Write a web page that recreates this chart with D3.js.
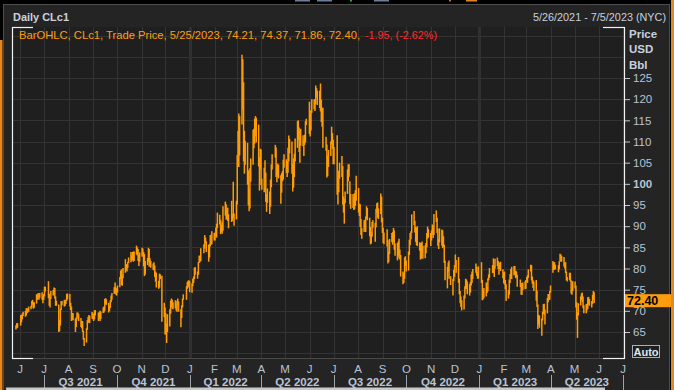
<!DOCTYPE html>
<html><head><meta charset="utf-8">
<script src="https://cdn.jsdelivr.net/npm/d3@7"></script>
<style>
body{margin:0;background:#000;}
svg{display:block;}
text{font-family:"Liberation Sans",Arial,sans-serif;}
</style>
</head><body>
<svg id="c" width="674" height="390"></svg>
<script>
// ---------------- DATA ----------------
const firstDay = "2021-05-26";
const lastDay = "2023-05-25";
const holidays = ["2021-05-31","2021-07-05","2021-09-06","2021-11-25","2021-12-24",
  "2022-01-17","2022-02-21","2022-04-15","2022-05-30","2022-06-20","2022-07-04","2022-09-05",
  "2022-11-24","2022-12-26","2023-01-02","2023-01-16","2023-02-20","2023-04-07"];

// daily lows (one line per month)
const lows = [
  65.6,65.9,66.0,
  66.5,67.3,68.0,68.8,68.6,68.9,69.4,69.6,69.8,70.4,70.8,71.4,70.5,70.7,71.7,72.6,72.8,72.6,73.1,72.6,71.8,72.6,
  73.4,74.6,73.0,71.2,70.8,72.8,73.6,73.8,72.9,71.2,71.2,65.0,65.2,66.5,70.2,71.3,71.0,71.2,71.6,72.4,72.7,
  71.0,70.2,67.6,67.8,67.8,65.0,66.2,68.0,68.6,67.6,66.2,65.9,65.0,63.2,61.7,62.5,65.5,67.3,67.1,67.1,68.2,68.0,
  67.6,68.0,68.9,67.6,68.2,67.6,68.1,69.5,69.6,70.0,71.6,71.4,69.6,70.0,70.7,72.0,72.6,74.0,74.4,73.8,73.6,
  74.3,75.6,77.5,76.1,75.9,77.7,79.0,79.6,79.3,80.1,81.3,81.5,81.8,82.0,81.6,81.8,83.3,83.1,81.8,80.6,81.6,
  82.8,83.1,80.5,78.2,78.6,80.8,81.6,80.4,80.9,80.2,79.7,79.5,78.0,76.9,75.5,75.2,75.5,77.5,67.4,68.5,64.4,
  64.4,62.4,65.0,66.3,69.3,70.9,70.5,70.4,70.6,70.1,69.8,71.4,69.8,66.1,68.3,70.8,72.6,72.6,75.2,75.5,75.8,74.4,
  74.3,75.8,76.6,77.5,78.5,77.6,78.5,81.3,81.5,81.8,83.6,84.7,85.9,83.9,81.6,82.6,85.2,85.6,85.7,86.6,
  86.6,87.5,87.3,89.6,90.4,88.1,88.6,88.2,88.9,92.5,91.6,91.6,91.2,89.5,91.0,91.2,92.0,90.1,91.6,
  95.1,104.0,104.0,106.7,114.0,117.5,105.3,102.4,104.5,99.8,94.9,93.5,94.2,100.5,104.5,108.4,109.5,111.2,109.8,104.1,98.4,103.4,99.7,
  98.6,98.0,101.4,95.7,93.4,95.5,92.9,94.6,99.2,103.4,106.2,101.6,100.4,101.7,101.3,95.3,97.9,100.6,101.0,103.8,
  102.6,101.6,102.6,105.3,107.2,102.4,98.2,99.1,101.6,105.3,108.5,110.4,107.5,105.0,109.0,108.9,106.6,109.2,109.8,113.9,111.8,
  111.2,112.6,116.8,117.6,117.2,118.8,120.4,118.6,117.9,117.1,114.6,113.5,108.5,107.8,101.5,101.8,104.0,106.6,109.3,108.3,104.6,
  104.6,97.4,95.1,98.0,101.2,101.6,95.1,93.2,90.6,95.4,97.6,100.6,101.7,95.2,94.1,94.3,93.8,94.0,94.8,96.0,
  93.2,92.4,89.8,87.9,87.0,88.6,89.6,88.6,91.8,91.4,87.6,85.7,85.9,87.5,89.6,86.3,89.7,93.1,92.0,91.7,92.9,90.9,88.4,
  86.0,85.7,85.2,81.2,81.5,83.4,86.2,85.6,86.2,84.4,83.0,81.9,83.0,82.4,82.1,78.1,76.3,76.6,77.6,80.6,79.3,
  79.5,83.2,85.5,86.9,88.4,90.3,88.5,86.3,85.5,85.3,84.2,82.1,82.3,83.6,82.3,82.4,83.6,85.0,87.1,87.3,85.3,
  86.6,88.0,87.2,87.9,91.0,88.4,85.4,84.6,86.2,85.4,84.8,85.1,81.3,77.2,75.3,79.3,77.6,76.1,73.6,77.0,78.0,
  80.4,79.0,76.6,73.9,71.8,70.9,70.1,70.3,72.9,75.1,75.2,73.9,73.6,74.3,76.0,76.6,77.6,79.0,78.3,77.6,77.6,
  76.6,72.5,72.7,73.1,73.4,74.2,74.6,77.2,77.8,78.9,79.0,78.0,80.0,80.6,79.9,78.5,79.9,79.4,77.7,76.5,
  76.2,75.1,72.3,72.9,73.8,76.6,77.6,77.5,78.4,78.4,77.7,77.9,75.7,75.6,73.8,73.8,74.9,75.1,75.2,
  76.8,76.6,77.8,79.3,77.2,76.4,75.4,74.7,72.4,70.9,65.7,66.8,66.0,64.1,67.7,69.3,69.1,66.8,69.4,72.0,72.6,72.6,74.3,
  79.0,79.7,79.7,79.8,79.1,79.8,81.6,81.7,81.6,80.5,80.0,78.9,77.2,76.9,77.3,76.9,74.1,73.8,74.7,
  75.3,70.8,67.9,63.6,68.9,71.3,72.6,72.1,70.6,69.4,69.4,70.1,70.5,71.5,71.2,70.8,71.6,72.6,71.86
];
// daily highs (one line per month)
const highs = [
  66.6,67.1,67.1,
  69.0,69.0,69.4,69.8,70.0,70.6,70.6,70.5,71.0,71.2,72.3,72.6,72.1,72.0,73.9,73.9,74.2,73.5,74.2,74.4,73.5,74.0,
  75.7,75.7,77.0,74.0,73.1,74.7,74.9,75.5,75.4,73.4,72.4,71.5,67.8,70.5,72.3,72.3,72.6,72.5,72.7,74.0,74.1,
  74.0,71.9,71.0,69.5,69.5,68.2,68.4,69.6,69.6,69.2,68.3,67.6,67.6,65.3,63.6,65.9,67.8,68.6,69.0,68.8,69.7,69.4,
  69.3,70.1,70.2,69.6,69.6,70.0,69.8,70.8,71.0,72.8,73.0,72.7,71.9,71.2,72.5,73.6,74.2,75.6,76.7,75.5,75.3,
  76.0,78.0,79.5,79.8,78.5,80.1,82.2,81.0,81.0,81.6,82.6,83.9,83.2,83.9,84.0,84.0,85.4,85.0,84.6,83.2,83.8,
  84.9,84.7,83.9,83.4,81.8,82.5,84.9,84.6,82.4,81.8,81.2,81.5,80.7,79.3,79.0,77.1,78.8,78.6,78.3,71.9,70.8,
  69.4,67.0,69.2,70.4,72.4,72.9,72.6,72.0,72.5,71.5,72.4,72.9,72.2,70.4,71.3,72.9,73.9,75.8,76.8,77.1,77.2,77.0,
  76.5,77.6,78.1,80.2,80.3,79.3,81.5,83.0,83.1,84.8,85.7,87.9,87.3,86.4,85.6,85.8,87.9,88.0,88.8,88.4,
  88.5,89.7,90.6,93.2,92.7,91.5,90.3,91.0,94.7,95.8,95.2,94.0,94.4,92.8,96.0,92.9,100.5,93.0,96.0,
  106.8,112.5,116.6,116.0,130.5,129.4,124.0,112.5,110.2,109.7,103.2,98.7,103.7,106.0,112.8,113.0,115.4,116.0,115.6,114.0,106.3,108.3,108.1,
  101.2,103.8,105.6,102.7,97.6,98.9,98.2,101.0,104.6,107.0,109.2,108.6,104.2,104.8,104.5,102.0,102.5,103.0,105.7,107.0,
  105.8,105.4,108.5,111.4,110.6,110.0,104.7,106.0,107.1,110.7,114.8,115.0,113.3,112.5,113.0,111.5,110.5,111.6,114.8,115.4,119.4,
  117.4,117.2,120.0,120.0,120.0,123.2,122.6,122.0,122.0,123.7,119.9,118.0,118.0,111.1,109.3,106.7,108.0,110.0,113.5,112.0,110.4,
  108.7,111.5,101.4,103.1,105.0,106.6,104.2,97.0,96.4,98.2,103.4,104.6,104.6,100.6,97.6,97.6,97.0,97.8,98.5,101.9,
  99.0,95.3,95.2,91.7,89.5,91.4,91.5,92.3,94.7,94.3,92.0,89.8,88.6,91.0,91.4,90.8,94.1,95.4,95.6,94.2,97.7,97.0,92.0,
  89.6,88.5,89.3,86.7,84.0,87.0,88.4,88.6,89.6,89.0,85.9,86.0,86.4,87.0,84.5,83.2,79.3,79.0,82.6,82.9,81.9,
  84.0,86.8,88.4,88.8,92.8,93.6,91.3,89.8,89.6,90.0,86.2,86.0,86.0,86.4,85.4,85.5,86.0,88.4,89.9,89.3,88.4,
  89.0,90.4,90.1,92.9,93.7,92.0,89.4,87.0,89.5,89.2,89.0,87.6,85.6,81.9,80.4,81.4,81.9,78.2,77.6,79.7,80.8,
  83.3,82.0,82.7,77.6,74.7,73.4,72.5,73.6,75.8,77.6,77.4,76.9,76.3,76.8,78.6,79.3,79.9,81.2,80.4,79.2,80.5,
  81.5,77.3,74.9,75.4,76.7,75.7,77.7,78.6,80.1,80.8,82.4,80.6,82.3,82.6,81.8,80.6,81.4,81.6,79.8,79.1,
  79.3,77.3,76.3,74.9,77.4,78.7,79.9,80.4,80.6,80.6,79.5,79.3,78.5,77.4,76.6,75.8,76.7,77.0,77.3,
  78.0,78.4,79.8,80.9,80.8,78.1,77.2,76.9,77.3,74.8,71.5,69.0,68.9,68.2,69.8,71.6,71.7,70.3,73.0,74.0,74.0,74.7,76.0,
  81.8,81.4,81.5,80.9,80.8,81.7,83.5,83.3,83.0,82.7,81.4,81.5,79.3,78.0,79.0,79.0,77.2,75.0,77.0,
  76.9,76.0,72.0,69.6,71.8,73.4,74.1,74.3,73.4,71.3,71.6,71.7,73.2,73.3,72.8,72.3,73.8,74.7,74.37
];

const yTickValues = [65,70,75,80,85,90,95,100,105,110,115,120,125];
const yGridValues = [60,65,70,75,80,85,90,95,100,105,110,115,120,125,130,135];
const monthLetters = ["J","J","A","S","O","N","D","J","F","M","A","M","J","J","A","S","O","N","D","J","F","M","A","M","J","J"];
const quarterNames = ["Q3 2021","Q4 2021","Q1 2022","Q2 2022","Q3 2022","Q4 2022","Q1 2023","Q2 2023"];
const titleText = "Daily CLc1";
const rangeText = "5/26/2021 - 7/5/2023 (NYC)";
const legendMain = "BarOHLC, CLc1, Trade Price,  5/25/2023, 74.21, 74.37, 71.86, 72.40,";
const legendChange = "-1.95, (-2.62%)";
const lastPrice = 72.40;
const axisUnits = ["Price","USD","Bbl"];

// ---------------- DRAW ----------------
const W = 674, H = 390;
const plot = {l:12, r:624, t:27, b:358};
const svg = d3.select("#c");
const parse = d3.timeParse("%Y-%m-%d");
const fmt = d3.timeFormat("%Y-%m-%d");

const x = d3.scaleTime().domain([new Date(2021,6,1), new Date(2023,6,1)]).range([44, 623]);
const y = d3.scaleLinear().domain([65,125]).range([332,78]);

const days = d3.timeDay.range(parse(firstDay), d3.timeDay.offset(parse(lastDay),1))
  .filter(d => d.getDay()!==0 && d.getDay()!==6 && !holidays.includes(fmt(d)));
const n = Math.min(days.length, lows.length, highs.length);
const bars = d3.range(n).map(i => ({d:days[i], lo:lows[i], hi:highs[i]}));

// background
svg.append("rect").attr("width",W).attr("height",H).attr("fill","#000");
// toolbar remnants
[[295,15,"#6c7f97"],[317,15,"#6c7f97"],[350,2,"#2fa84a"],[374,15,"#6c7f97"],[449,2,"#c07020"],[466,11,"#e0861c"]]
  .forEach(([px,w,c]) => svg.append("rect").attr("x",px).attr("y",0).attr("width",w).attr("height",1.5).attr("fill",c));
svg.append("rect").attr("x",3.5).attr("y",4.5).attr("width",666).attr("height",390)
  .attr("fill","#242424").attr("stroke","#4d4d4d");
// orange window edges
svg.append("rect").attr("x",0).attr("y",40).attr("width",2.5).attr("height",H-40).attr("fill","#e8871e");
svg.append("rect").attr("x",671).attr("y",0).attr("width",3).attr("height",H).attr("fill","#e8871e");

// plot background
svg.append("rect").attr("x",plot.l).attr("y",plot.t).attr("width",plot.r-plot.l).attr("height",plot.b-plot.t)
  .attr("fill","#1f1f1f");

const clip = svg.append("clipPath").attr("id","pc").append("rect")
  .attr("x",plot.l).attr("y",plot.t).attr("width",plot.r-plot.l).attr("height",plot.b-plot.t);
const g = svg.append("g").attr("clip-path","url(#pc)");

// grid
g.selectAll(".hg").data(yGridValues).enter().append("line")
  .attr("x1",plot.l).attr("x2",plot.r)
  .attr("y1",d=>Math.round(y(d))+0.5).attr("y2",d=>Math.round(y(d))+0.5)
  .attr("stroke","#343434").attr("stroke-width",1);
const months = d3.timeMonth.range(new Date(2021,5,1), new Date(2023,7,1));
g.selectAll(".vg").data(months).enter().append("line")
  .attr("x1",d=>Math.round(x(d))+0.5).attr("x2",d=>Math.round(x(d))+0.5)
  .attr("y1",plot.t).attr("y2",plot.b)
  .attr("stroke",d=>d.getMonth()===0?"#303030":"#343434")
  .attr("stroke-width",d=>d.getMonth()===0?3:1);

// bars
g.selectAll(".bar").data(bars).enter().append("line")
  .attr("x1",d=>x(d.d)+0.5).attr("x2",d=>x(d.d)+0.5)
  .attr("y1",d=>y(d.hi)).attr("y2",d=>Math.max(y(d.lo), y(d.hi)+1))
  .attr("stroke","#ff9c05").attr("stroke-width",1.5);

// frame
svg.append("line").attr("x1",plot.l).attr("x2",plot.r).attr("y1",plot.b+0.5).attr("y2",plot.b+0.5).attr("stroke","#4a4a4a");
const white = "#f2f2f2";
[[plot.l+0.5,plot.t,plot.l+0.5,plot.b+1],[plot.r+0.5,plot.t,plot.r+0.5,plot.b+1],
 [plot.l,plot.t+0.5,plot.l+21,plot.t+0.5],[plot.r-21,plot.t+0.5,plot.r+1,plot.t+0.5],
 [plot.l,plot.b+0.5,plot.l+21,plot.b+0.5],[plot.r-21,plot.b+0.5,plot.r+1,plot.b+0.5]]
 .forEach(([a,b,c,d]) => svg.append("line").attr("x1",a).attr("y1",b).attr("x2",c).attr("y2",d)
   .attr("stroke",white).attr("stroke-width",1.2));

// title + range
svg.append("text").attr("x",13).attr("y",21).attr("fill","#c9d1de").attr("font-size",11.5)
  .attr("font-weight","bold").attr("textLength",56).attr("lengthAdjust","spacingAndGlyphs").text(titleText);
svg.append("text").attr("x",533).attr("y",21).attr("fill","#c9d1de").attr("font-size",11.5)
  .attr("textLength",133).attr("lengthAdjust","spacingAndGlyphs").text(rangeText);

// legend
svg.append("text").attr("x",19).attr("y",38.5).attr("fill","#ff9d0e").attr("font-size",11.5)
  .attr("textLength",341).attr("lengthAdjust","spacingAndGlyphs").text(legendMain);
svg.append("text").attr("x",365).attr("y",38.5).attr("fill","#ff2a2a").attr("font-size",11.5)
  .attr("textLength",72).attr("lengthAdjust","spacingAndGlyphs").text(legendChange);

// right axis
const yAxis = d3.axisRight(y).tickValues(yTickValues).tickSize(5).tickPadding(3).tickFormat(d3.format("d"));
const ya = svg.append("g").attr("transform",`translate(${plot.r+1},0)`).call(yAxis);
ya.select(".domain").remove();
ya.selectAll(".tick line").attr("stroke","#c0c8d4");
ya.selectAll(".tick text").attr("fill","#b9c3d3").attr("font-size",11.5)
  .attr("font-family","'Liberation Sans',Arial,sans-serif")
  .attr("font-weight",d=>d===100?"bold":"normal");

axisUnits.forEach((t,i) => svg.append("text").attr("x",629).attr("y",37.5+i*15.5)
  .attr("fill","#c9d1de").attr("font-size",11.5).attr("font-weight","bold").text(t));

// last price tag
svg.append("rect").attr("x",625).attr("y",y(lastPrice)-6.5).attr("width",46).attr("height",13).attr("fill","#ff9d0e");
svg.append("text").attr("x",627).attr("y",y(lastPrice)+4.5).attr("fill","#000").attr("font-size",12.5)
  .attr("font-weight","bold").text(d3.format(".2f")(lastPrice));

// Auto box
svg.append("rect").attr("x",632.5).attr("y",345.5).attr("width",27).attr("height",12)
  .attr("fill","#1f1f1f").attr("stroke","#a9aeb5");
svg.append("text").attr("x",646).attr("y",355.5).attr("text-anchor","middle").attr("fill","#dfe4ec")
  .attr("font-size",11).attr("font-weight","bold").text("Auto");

// x axis months
svg.selectAll(".ml").data(months).enter().append("text")
  .attr("x",d=>x(d)).attr("y",373).attr("text-anchor","middle")
  .attr("fill","#b9c3d3").attr("font-size",11.5).text((d,i)=>monthLetters[i]);

// quarters
const qStarts = d3.timeMonth.every(3).range(new Date(2021,6,1), new Date(2023,7,1));
svg.selectAll(".qs").data(qStarts).enter().append("line")
  .attr("x1",d=>Math.round(x(d))+0.5).attr("x2",d=>Math.round(x(d))+0.5)
  .attr("y1",375).attr("y2",H).attr("stroke","#9ea3aa");
svg.selectAll(".ql").data(quarterNames).enter().append("text")
  .attr("x",(d,i)=>(x(qStarts[i])+x(qStarts[i+1]))/2).attr("y",386).attr("text-anchor","middle")
  .attr("fill","#b9c3d3").attr("font-size",11.5).attr("font-weight","bold").text(d=>d);

// scrollbar
svg.append("rect").attr("x",6).attr("y",387.5).attr("width",599).attr("height",2.5).attr("fill","#c9c9c9");
</script>
</body></html>
